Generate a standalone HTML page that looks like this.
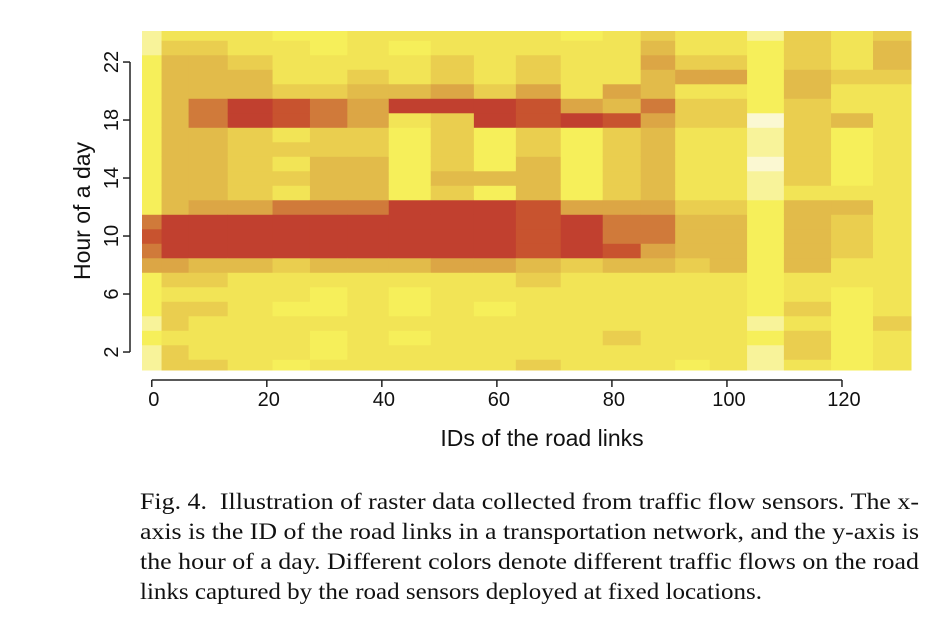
<!DOCTYPE html>
<html><head><meta charset="utf-8">
<style>
body{margin:0;background:#fff;width:944px;height:640px;overflow:hidden;position:relative;font-family:"Liberation Sans",sans-serif;}
#cap{position:absolute;left:140px;top:487px;width:779px;font-family:"Liberation Serif",serif;font-size:23px;line-height:30px;color:#111;}
#cap div{height:30px;white-space:nowrap;}
#cap span{display:inline-block;transform-origin:0 50%;white-space:pre;}
</style></head><body>
<svg id="chart" width="944" height="480" style="position:absolute;left:0;top:0">
<g id="cells"></g>
<g id="axes"></g>
</svg>
<div id="cap">
<div><span data-w="779">Fig. 4.  Illustration of raster data collected from traffic flow sensors. The x-</span></div>
<div><span data-w="779">axis is the ID of the road links in a transportation network, and the y-axis is</span></div>
<div><span data-w="779">the hour of a day. Different colors denote different traffic flows on the road</span></div>
<div><span data-w="622">links captured by the road sensors deployed at fixed locations.</span></div>
</div>
<script>
document.querySelectorAll('#cap span').forEach(s=>{
  const w=s.getBoundingClientRect().width;
  s.style.transform='scaleX('+(parseFloat(s.dataset.w)/w)+')';
});
// block edges (road link IDs)
const blockEdges=[-1.7,1.7,6.4,13.2,21,27.5,34,41.2,48.5,56,63.3,71.1,78.4,85,91,97,103.5,109.9,118.1,125.4,132];
const hours=[1,2,3,4,5,6,7,8,9,10,11,12,13,14,15,16,17,18,19,20,21,22,23,24];
// flow level per block (0 = heaviest/red, 9 = lightest/white), hours 1..24
const b0=[8,8,7,8,7,7,7,3,2,1,2,7,7,7,7,7,7,7,7,7,7,7,8,8];
const b1=[5,5,6,5,5,6,5,3,0,0,0,4,4,4,4,4,4,4,4,4,4,4,5,6];
const b2=[5,6,6,6,5,6,5,4,0,0,0,3,4,4,4,4,4,2,2,4,4,4,5,6];
const b3=[6,6,6,6,6,6,6,4,0,0,0,3,5,5,5,5,5,0,0,4,4,5,6,6];
const b4=[7,6,6,6,7,6,6,5,0,0,0,2,6,5,6,5,6,1,1,5,6,6,6,7];
const b5=[6,7,7,6,7,7,6,4,0,0,0,2,4,4,4,5,5,2,2,5,6,6,7,7];
const b6=[6,6,6,6,6,6,6,4,0,0,0,2,4,4,4,5,5,3,3,4,5,6,6,6];
const b7=[6,6,7,6,7,7,6,4,0,0,0,0,7,7,7,7,7,6,0,4,6,6,7,6];
const b8=[6,6,6,6,6,6,6,3,0,0,0,0,5,4,5,5,5,5,0,3,5,5,6,6];
const b9=[6,6,6,6,7,6,6,3,0,0,0,0,7,4,7,7,7,0,0,5,6,6,6,6];
const b10=[5,6,6,6,6,6,5,4,1,1,1,1,4,4,4,5,5,1,1,3,5,5,6,6];
const b11=[6,6,6,6,6,6,6,5,0,0,0,3,7,7,7,7,7,0,3,6,6,6,6,7];
const b12=[6,6,5,6,6,6,6,4,1,2,2,3,5,5,5,5,5,1,4,3,6,6,6,6];
const b13=[6,6,6,6,6,6,6,4,3,2,2,3,4,4,4,4,4,3,2,4,4,3,4,5];
const b14=[7,6,6,6,6,6,6,5,4,4,4,5,6,6,6,6,6,5,5,6,3,5,6,6];
const b15=[6,6,6,6,6,6,6,4,4,4,4,5,6,6,6,6,6,5,5,6,3,5,6,6];
const b16=[8,8,7,8,7,7,7,7,7,7,7,7,8,8,9,8,8,9,7,7,7,7,7,8];
const b17=[6,5,5,6,5,6,6,4,4,4,4,4,6,5,5,5,5,5,5,4,4,5,5,5];
const b18=[7,7,7,7,7,7,6,6,5,5,5,4,6,7,7,7,7,4,6,6,5,6,6,6];
const b19=[6,6,6,5,6,6,6,6,6,6,6,6,6,6,6,6,6,6,6,6,5,4,4,5];
const blocks=[b0,b1,b2,b3,b4,b5,b6,b7,b8,b9,b10,b11,b12,b13,b14,b15,b16,b17,b18,b19];
const xTicks=[0,20,40,60,80,100,120];
const yTicks=[2,6,10,14,18,22];

const palette=["#c1402f","#c8532f","#d07a3a","#dca645","#e2bb4a","#eace4f","#f2e456","#f6ef5a","#f8f39a","#fbf8d2"];
const X0=-1.7,X1=132,PX0=142,PX1=911;
const Y0=0.76,Y1=24.14,PY0=370,PY1=31;
const xs=v=>PX0+(v-X0)/(X1-X0)*(PX1-PX0);
const ys=v=>PY0+(v-Y0)/(Y1-Y0)*(PY1-PY0);
const NS="http://www.w3.org/2000/svg";
const cells=document.getElementById('cells');
blocks.forEach((arr,bi)=>{
  arr.forEach((val,hi)=>{
    const h=hours[hi];
    const lo=Math.max(Y0,h-0.5),hiV=Math.min(Y1,h+0.5);
    const r=document.createElementNS(NS,'rect');
    
    
    const xa=xs(blockEdges[bi]),xb=xs(blockEdges[bi+1]);
    r.setAttribute('x',xa);r.setAttribute('width',xb-xa+0.5);
    r.setAttribute('y',ys(hiV));r.setAttribute('height',ys(lo)-ys(hiV)+0.5);
    r.setAttribute('fill',palette[val]);
    cells.appendChild(r);
  });
});
const axes=document.getElementById('axes');
function el(tag,attrs,text){const e=document.createElementNS(NS,tag);for(const k in attrs)e.setAttribute(k,attrs[k]);if(text!==undefined)e.textContent=text;axes.appendChild(e);return e;}
const xl=el('line',{x1:xs(xTicks[0]),x2:xs(xTicks[xTicks.length-1]),y1:380,y2:380,stroke:'#222','stroke-width':1.5});


xTicks.forEach(t=>{
  const tk=el('line',{x1:xs(t),x2:xs(t),y1:380,y2:387,stroke:'#222','stroke-width':1.5});
  
  
  const tl=el('text',{x:xs(t)+2,y:406,'text-anchor':'middle','font-size':20,fill:'#111'},t);
  
  
});
const yl=el('line',{x1:130,x2:130,y1:ys(yTicks[0]),y2:ys(yTicks[yTicks.length-1]),stroke:'#222','stroke-width':1.5});


yTicks.forEach(t=>{
  const tk=el('line',{x1:123,x2:130,y1:ys(t),y2:ys(t),stroke:'#222','stroke-width':1.5});
  
  
  const tl=el('text',{x:0,y:0,'text-anchor':'middle','font-size':20,fill:'#111',transform:`translate(118,${ys(t)}) rotate(-90)`},t);
  
  
});
const xt=el('text',{x:542,y:446,'text-anchor':'middle','font-size':23,fill:'#111'},'IDs of the road links');


const yt=el('text',{x:0,y:0,'text-anchor':'middle','font-size':23,fill:'#111',transform:'translate(90,211) rotate(-90)'},'Hour of a day');


</script>
</body></html>
